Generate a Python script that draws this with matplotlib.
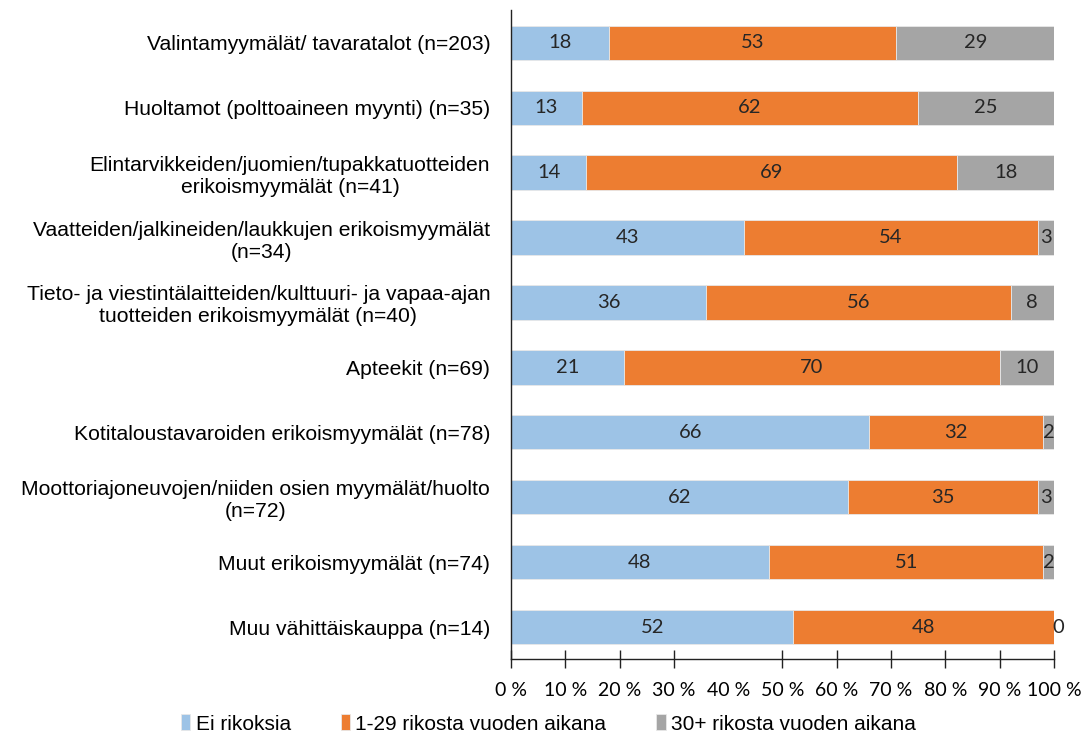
import matplotlib.pyplot as plt
import numpy as np

# kategoriat ylhäältä alas
kategoriat = [
    "Valintamyymälät/ tavaratalot (n=203)",
    "Huoltamot (polttoaineen myynti) (n=35)",
    "Elintarvikkeiden/juomien/tupakkatuotteiden\nerikoismyymälät (n=41)",
    "Vaatteiden/jalkineiden/laukkujen erikoismyymälät\n(n=34)",
    "Tieto- ja viestintälaitteiden/kulttuuri- ja vapaa-ajan\ntuotteiden erikoismyymälät (n=40)",
    "Apteekit (n=69)",
    "Kotitaloustavaroiden erikoismyymälät (n=78)",
    "Moottoriajoneuvojen/niiden osien myymälät/huolto\n(n=72)",
    "Muut erikoismyymälät (n=74)",
    "Muu vähittäiskauppa (n=14)",
]
ei_rikoksia = [18, 13, 14, 43, 36, 21, 66, 62, 48, 52]
rikoksia_1_29 = [53, 62, 69, 54, 56, 70, 32, 35, 51, 48]
rikoksia_30 = [29, 25, 18, 3, 8, 10, 2, 3, 2, 0]
sarjat = ["Ei rikoksia", "1-29 rikosta vuoden aikana", "30+ rikosta vuoden aikana"]
varit = ["#9DC3E6", "#ED7D31", "#A5A5A5"]
xtikit = [0, 10, 20, 30, 40, 50, 60, 70, 80, 90, 100]

fig = plt.figure(figsize=(10.86, 7.44), dpi=100)
ax = fig.add_axes([0.4705, 0.1136, 0.5, 0.8725])

data = np.array([ei_rikoksia, rikoksia_1_29, rikoksia_30], dtype=float)
osuus = data / data.sum(axis=0) * 100  # 100 % pinottu
y = np.arange(len(kategoriat))
vasen = np.zeros(len(kategoriat))
for i in range(3):
    ax.barh(y, osuus[i], left=vasen, height=0.53, color=varit[i],
            edgecolor="#E8E8E8", linewidth=0.6, label=sarjat[i])
    for j in range(len(kategoriat)):
        w = osuus[i][j]
        cx = vasen[j] + w / 2 if w > 0 else vasen[j] + 0.8
        ax.text(cx, y[j], str(int(data[i][j])), ha="center", va="center",
                fontsize=14.5, family="Lato", color="#262626")
    vasen += osuus[i]

ax.set_xlim(0, 100)
ax.set_ylim(len(kategoriat) - 0.5, -0.5)
ax.set_yticks(y)
ax.set_yticklabels(kategoriat, fontsize=15.2, family="Liberation Sans",
                   linespacing=1.2, multialignment="center")
ax.tick_params(axis="y", length=0, pad=15)
ax.set_xticks(xtikit)
ax.set_xticklabels([f"{t} %" for t in xtikit], fontsize=14, family="Lato")
ax.tick_params(axis="x", direction="inout", length=13, width=1,
               color="#222222", pad=10)
ax.get_xaxis().get_major_ticks()[4].tick1line.set_visible(False)
for s in ["top", "right"]:
    ax.spines[s].set_visible(False)
for s in ["left", "bottom"]:
    ax.spines[s].set_color("#222222")
    ax.spines[s].set_linewidth(1)

fig.legend(loc="center", bbox_to_anchor=(0.505, 0.027), ncol=3, frameon=False,
           prop={"family": "Liberation Sans", "size": 15},
           handlelength=0.45, handleheight=0.8, handletextpad=0.25,
           columnspacing=2.4)

fig.savefig("out.png", dpi=100)
